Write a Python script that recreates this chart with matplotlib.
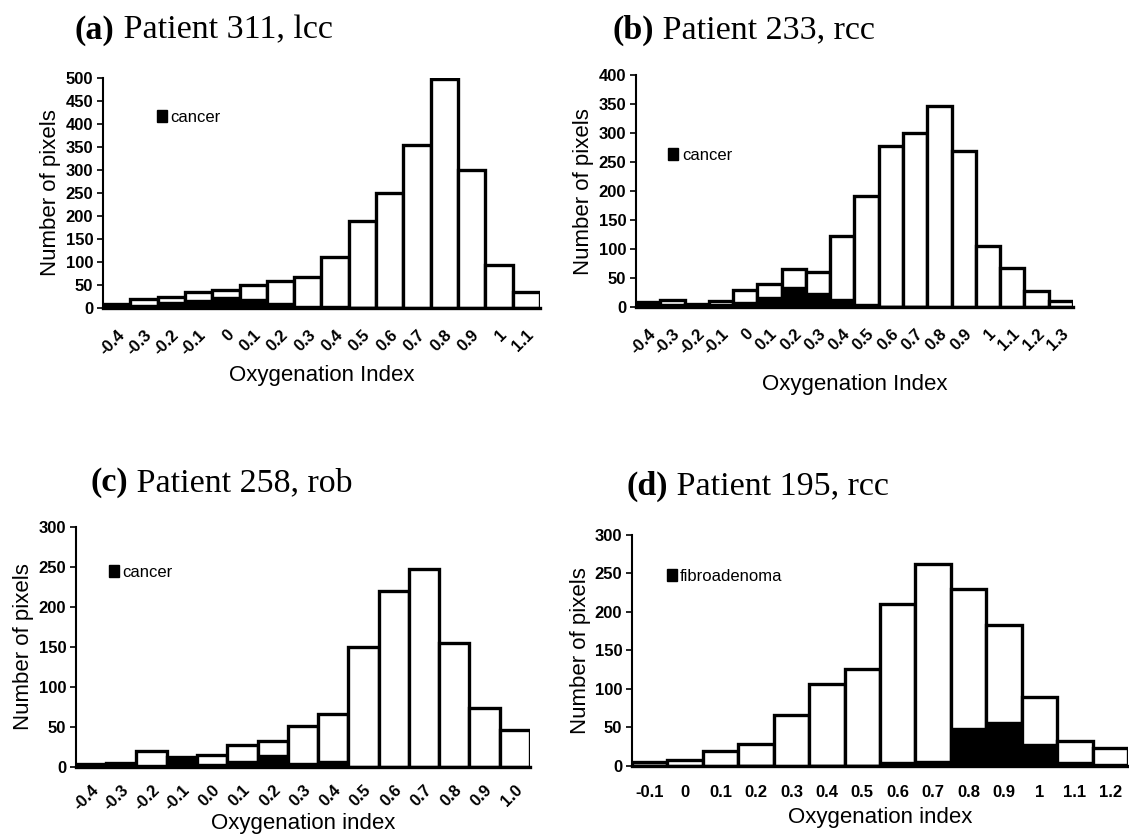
import numpy as np
import matplotlib
matplotlib.use("Agg")
import matplotlib.pyplot as plt
from matplotlib.patches import Patch

# (a) Patient 311, lcc
a_labels = ["-0.4", "-0.3", "-0.2", "-0.1", "0", "0.1", "0.2", "0.3", "0.4", "0.5",
            "0.6", "0.7", "0.8", "0.9", "1", "1.1"]
a_all = [9, 20, 24, 34, 39, 51, 59, 68, 110, 189, 250, 355, 498, 300, 94, 34]
a_les = [9, 6, 14, 18, 25, 20, 10, 5, 4, 3, 2, 1, 1, 0, 0, 0]

# (b) Patient 233, rcc
b_labels = ["-0.4", "-0.3", "-0.2", "-0.1", "0", "0.1", "0.2", "0.3", "0.4", "0.5",
            "0.6", "0.7", "0.8", "0.9", "1", "1.1", "1.2", "1.3"]
b_all = [9, 12, 6, 10, 29, 40, 65, 60, 122, 191, 278, 301, 346, 269, 105, 67, 27, 10]
b_les = [5, 6, 3, 5, 9, 17, 34, 24, 14, 5, 1, 1, 0, 0, 0, 0, 0, 0]

# (c) Patient 258, rob
c_labels = ["-0.4", "-0.3", "-0.2", "-0.1", "0.0", "0.1", "0.2", "0.3", "0.4", "0.5",
            "0.6", "0.7", "0.8", "0.9", "1.0"]
c_all = [4, 5, 20, 13, 15, 28, 33, 51, 66, 150, 220, 247, 155, 74, 46]
c_les = [3, 5, 2, 13, 4, 7, 15, 5, 7, 0, 0, 0, 0, 0, 0]

# (d) Patient 195, rcc
d_labels = ["-0.1", "0", "0.1", "0.2", "0.3", "0.4", "0.5", "0.6", "0.7", "0.8",
            "0.9", "1", "1.1", "1.2"]
d_all = [5, 8, 19, 29, 66, 106, 126, 211, 262, 230, 183, 89, 32, 23]
d_les = [1, 0, 0, 1, 0, 1, 1, 5, 6, 49, 57, 28, 5, 3]

panels = [
    # title bold, title rest, labels, all, lesion, ymax, legend, xlabel, rotate, rect,
    # legend pos, title pos, tick pad, xlabel pad
    ("(a)", " Patient 311, lcc", a_labels, a_all, a_les, 500, "cancer", "Oxygenation Index", True,
     [0.0912, 0.6333, 0.387, 0.2738], (0.09, 0.83), (75, 30), 14, 5),
    ("(b)", " Patient 233, rcc", b_labels, b_all, b_les, 400, "cancer", "Oxygenation Index", True,
     [0.5633, 0.6345, 0.387, 0.276], (0.04, 0.655), (612, 30), 14, 12),
    ("(c)", " Patient 258, rob", c_labels, c_all, c_les, 300, "cancer", "Oxygenation index", True,
     [0.0673, 0.0869, 0.402, 0.2857], (0.04, 0.81), (90, 483), 11, 0),
    ("(d)", " Patient 195, rcc", d_labels, d_all, d_les, 300, "fibroadenoma", "Oxygenation index", False,
     [0.5598, 0.0881, 0.4393, 0.275], (0.04, 0.82), (627, 486), 14, 5),
]

W, H = 1129, 840
fig = plt.figure(figsize=(W / 100, H / 100), dpi=100)
fig.patch.set_facecolor("white")

for (bold, rest, labels, allv, les, ymax, legname, xlab, rot, rect, legpos, tpos,
     tpad, xpad) in panels:
    ax = fig.add_axes(rect)
    x = np.arange(len(labels))
    ax.bar(x, allv, width=1.0, color="white", edgecolor="black", linewidth=2.4, zorder=2)
    ax.bar(x, les, width=1.0, color="black", edgecolor="black", linewidth=1.0, zorder=3)
    ax.set_xlim(-0.5, len(labels) - 0.5)
    ax.set_ylim(0, ymax)
    ax.set_yticks(np.arange(0, ymax + 1, 50))
    ax.set_xticks(x)
    if rot:
        ax.set_xticklabels(labels, rotation=45, ha="right", rotation_mode="anchor")
    else:
        ax.set_xticklabels(labels)
    for lab in ax.get_xticklabels() + ax.get_yticklabels():
        lab.set_fontweight("bold")
        lab.set_fontsize(12)
        lab.set_family("Liberation Sans")
    ax.tick_params(axis="x", length=0, pad=tpad)
    ax.tick_params(axis="y", direction="out", length=4, width=1.2, pad=3)
    for s in ["top", "right"]:
        ax.spines[s].set_visible(False)
    ax.spines["left"].set_linewidth(1.5)
    ax.spines["bottom"].set_linewidth(2.4)
    ax.set_ylabel("Number of pixels", fontsize=16, family="Liberation Sans", labelpad=3)
    ax.set_xlabel(xlab, fontsize=16, family="Liberation Sans", labelpad=xpad)
    ax.legend(handles=[Patch(facecolor="black", edgecolor="black")], labels=[legname],
              loc="center left", bbox_to_anchor=legpos, frameon=False,
              handlelength=0.6, handleheight=0.75, handletextpad=0.2,
              prop={"family": "Liberation Sans", "size": 12})
    t1 = fig.text(tpos[0] / W, 1 - tpos[1] / H, bold, fontsize=24.5, fontweight="bold",
                  family="Liberation Serif", va="center", ha="left")
    fig.canvas.draw()
    bb = t1.get_window_extent()
    fig.text(bb.x1 / W, 1 - tpos[1] / H, rest, fontsize=24.5,
             family="Liberation Serif", va="center", ha="left")

fig.savefig("out.png", dpi=100)
